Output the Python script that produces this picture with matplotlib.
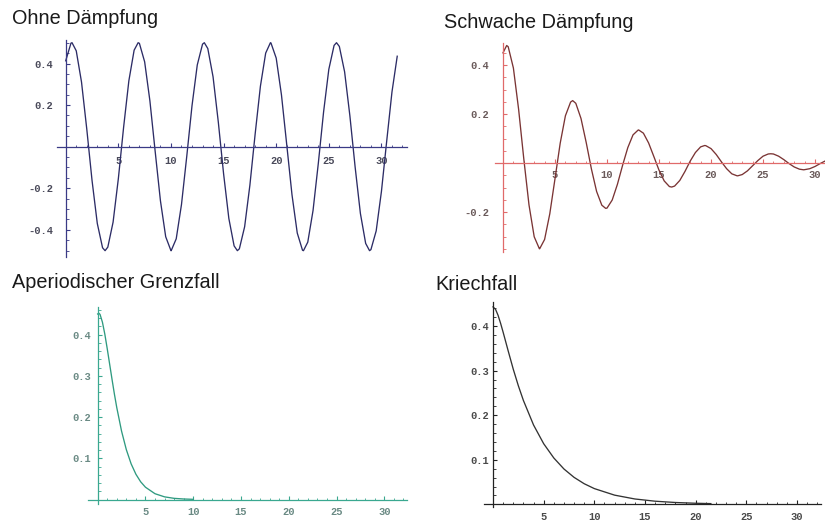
import matplotlib
matplotlib.use("Agg")
import numpy as np
from matplotlib import pyplot as plt
from matplotlib.ticker import FixedLocator, FixedFormatter, MultipleLocator

# --- Ohne Dämpfung ---
t_free = [0, 0.5, 1, 1.5, 2, 2.5, 3, 3.5, 4, 4.5, 5, 5.5, 6, 6.5, 7, 7.5,
          8, 8.5, 9, 9.5, 10, 10.5, 11, 11.5, 12, 12.5, 13, 13.5, 14, 14.5,
          15, 15.5, 16, 16.5, 17, 17.5, 18, 18.5, 19, 19.5, 20, 20.5, 21,
          21.5, 22, 22.5, 23, 23.5, 24, 24.5, 25, 25.5, 26, 26.5, 27, 27.5,
          28, 28.5, 29, 29.5, 30, 30.5, 31, 31.5]
x_free = [0.413, 0.498, 0.461, 0.311, 0.085, -0.162, -0.369, -0.486, -0.483,
          -0.363, -0.154, 0.093, 0.317, 0.464, 0.497, 0.408, 0.220, -0.023,
          -0.260, -0.433, -0.500, -0.443, -0.278, -0.047, 0.197, 0.393, 0.493,
          0.472, 0.336, 0.118, -0.130, -0.345, -0.477, -0.491, -0.385, -0.185,
          0.061, 0.291, 0.450, 0.499, 0.426, 0.249, 0.010, -0.231, -0.415,
          -0.498, -0.459, -0.307, -0.081, 0.166, 0.372, 0.487, 0.482, 0.360,
          0.149, -0.098, -0.321, -0.465, -0.495, -0.405, -0.215, 0.027, 0.263,
          0.435]
# turning points of the undamped swing
t_free_ext = [0.6, 3.74, 6.88, 10.02, 13.17, 16.31, 19.45, 22.59, 25.73, 28.87]
x_free_ext = [0.5, -0.5, 0.5, -0.5, 0.5, -0.5, 0.5, -0.5, 0.5, -0.5]

# --- Schwache Dämpfung ---
t_weak = t_free
x_weak = [0.450, 0.475, 0.388, 0.220, 0.017, -0.171, -0.301, -0.350, -0.312,
          -0.207, -0.064, 0.081, 0.193, 0.249, 0.244, 0.182, 0.084, -0.024,
          -0.116, -0.172, -0.184, -0.151, -0.087, -0.009, 0.063, 0.115, 0.135,
          0.122, 0.082, 0.027, -0.029, -0.073, -0.096, -0.094, -0.071, -0.034,
          0.008, 0.043, 0.066, 0.071, 0.059, 0.035, 0.005, -0.023, -0.044,
          -0.052, -0.047, -0.032, -0.011, 0.010, 0.028, 0.037, 0.037, 0.028,
          0.014, -0.002, -0.016, -0.025, -0.027, -0.023, -0.014, -0.002, 0.009,
          0.017]
t_weak_ext = [0.353, 3.526, 6.70, 9.87, 13.05, 16.22, 19.39, 22.57, 25.74,
              28.91]
x_weak_ext = [0.480, -0.350, 0.255, -0.185, 0.135, -0.098, 0.0716, -0.0521,
              0.0379, -0.0276]

# --- Aperiodischer Grenzfall ---
t_crit = [0, 0.12, 0.25, 0.5, 0.75, 1, 1.25, 1.5, 1.75, 2, 2.5, 3, 3.5, 4,
          4.5, 5, 6, 7, 8, 9, 10]
x_crit = [0.450, 0.452, 0.449, 0.430, 0.401, 0.366, 0.329, 0.292, 0.256,
          0.223, 0.166, 0.121, 0.0868, 0.0615, 0.0431, 0.0300, 0.0142, 0.0066,
          0.0030, 0.0014, 0.0006]

# --- Kriechfall ---
t_creep = [0, 0.25, 0.5, 0.75, 1, 1.5, 2, 2.5, 3, 4, 5, 6, 7, 8, 9, 10, 12,
           14, 16, 18, 20, 21.5]
x_creep = [0.443, 0.4375, 0.424, 0.406, 0.386, 0.344, 0.303, 0.266, 0.233,
           0.178, 0.136, 0.104, 0.0793, 0.0605, 0.0462, 0.0353, 0.0206,
           0.0120, 0.0070, 0.0041, 0.0024, 0.0016]

xticks = [5, 10, 15, 20, 25, 30]
xtick_labels = ["5", "10", "15", "20", "25", "30"]
yticks_big = [-0.4, -0.2, 0.2, 0.4]
ylabels_big = ["-0.4", "-0.2", "0.2", "0.4"]
yticks_weak = [-0.2, 0.2, 0.4]
ylabels_weak = ["-0.2", "0.2", "0.4"]
yticks_small = [0.1, 0.2, 0.3, 0.4]
ylabels_small = ["0.1", "0.2", "0.3", "0.4"]

W, H = 825, 523
fig = plt.figure(figsize=(W / 100, H / 100), dpi=100)
fig.patch.set_facecolor("white")

mono = "Liberation Mono"
sans = "Liberation Sans"


def merged(t, x, t_ext, x_ext):
    # sample points plus turning points, ordered along t
    tt = np.concatenate([t, t_ext])
    xx = np.concatenate([x, x_ext])
    order = np.argsort(tt)
    return tt[order], xx[order]


def panel(box, xlim, ylim, yticks, ylabels, yminor, axis_col, label_col,
          ypad, xpad):
    left, right, top, bottom = box
    ax = fig.add_axes([left / W, 1 - bottom / H, (right - left) / W,
                       (bottom - top) / H])
    ax.set_xlim(*xlim)
    ax.set_ylim(*ylim)
    ax.patch.set_alpha(0)
    for s in ("top", "right"):
        ax.spines[s].set_visible(False)
    for s in ("left", "bottom"):
        ax.spines[s].set_position("zero")
        ax.spines[s].set_color(axis_col)
        ax.spines[s].set_linewidth(0.9)
    ax.xaxis.set_major_locator(FixedLocator(xticks))
    ax.xaxis.set_major_formatter(FixedFormatter(xtick_labels))
    ax.xaxis.set_minor_locator(MultipleLocator(1))
    ax.yaxis.set_major_locator(FixedLocator(yticks))
    ax.yaxis.set_major_formatter(FixedFormatter(ylabels))
    ax.yaxis.set_minor_locator(MultipleLocator(yminor))
    ax.tick_params(which="both", direction="in", color=axis_col)
    ax.tick_params(which="major", length=3.2, width=0.8)
    ax.tick_params(which="minor", length=1.8, width=0.6)
    ax.tick_params(axis="x", which="major", pad=xpad, labelsize=7.5,
                   labelcolor=label_col)
    ax.tick_params(axis="y", which="major", pad=ypad, labelsize=7.5,
                   labelcolor=label_col)
    for lab in ax.get_xticklabels() + ax.get_yticklabels():
        lab.set_fontfamily(mono)
        lab.set_fontweight("bold")
    return ax


ax1 = panel((57.3, 406.7, 40, 256.7), (-0.8, 32.4), (-0.529, 0.513),
            yticks_big, ylabels_big, 0.05, "#3a3a86", "#4a4a5a", 9.0, 6.5)
ax1.plot(*merged(t_free, x_free, t_free_ext, x_free_ext), color="#2c2c66",
         lw=0.95, clip_on=False)

ax2 = panel((495.3, 825, 43.3, 251.7), (-0.74, 30.96), (-0.362, 0.489),
            yticks_weak, ylabels_weak, 0.05, "#e06a6a", "#6a5a5a", 10.0, 4.7)
ax2.plot(*merged(t_weak, x_weak, t_weak_ext, x_weak_ext), color="#7a3434",
         lw=0.95)

ax3 = panel((88.3, 407.3, 307, 503.7), (-0.98, 32.4), (-0.01, 0.467),
            yticks_small, ylabels_small, 0.02, "#3aa890", "#6a8a84", 4.5, 5.1)
ax3.plot(t_crit, x_crit, color="#2f9a80", lw=0.95)

ax4 = panel((483.7, 821.3, 302, 507.0), (-0.92, 32.4), (-0.006, 0.454),
            yticks_small, ylabels_small, 0.02, "#222222", "#4a4a4a", 3.0, 5.4)
ax4.plot(t_creep, x_creep, color="#333333", lw=0.95)

titles = [("Ohne Dämpfung", 12, 24), ("Schwache Dämpfung", 443.5, 28),
          ("Aperiodischer Grenzfall", 12.5, 288), ("Kriechfall", 435, 290)]
for text, px, py in titles:
    fig.text(px / W, 1 - py / H, text, fontsize=14.3, family=sans,
             color="#1a1a1a", ha="left", va="baseline")

fig.savefig("out.png", dpi=100)
